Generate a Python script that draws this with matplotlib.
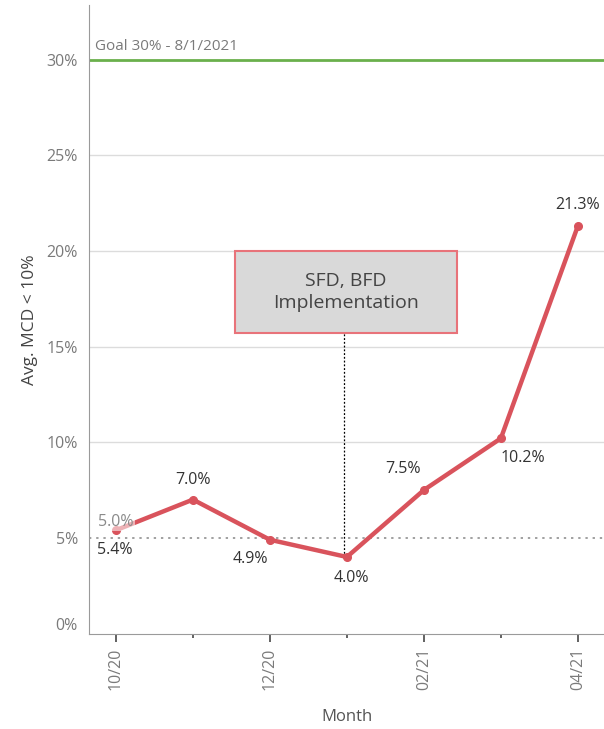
import matplotlib.pyplot as plt
from matplotlib.patches import Rectangle

months = ["10/20", "11/20", "12/20", "01/21", "02/21", "03/21", "04/21"]
avg_mcd = [5.4, 7.0, 4.9, 4.0, 7.5, 10.2, 21.3]
tick_labels = ["10/20", "", "12/20", "", "02/21", "", "04/21"]
goal = 30
baseline = 5.0

# label offsets in points (dx, dy) for each data label
label_offsets = [(-1, -14), (0, 14), (-14, -14), (3, -15), (-15, 15), (16, -14), (0, 15)]

red = "#d9535c"
gray_txt = "#7a7a7a"

plt.rcParams['font.family'] = ['Open Sans', 'DejaVu Sans']

fig = plt.figure(figsize=(6.04, 7.29), dpi=100)
ax = fig.add_axes([0.1474, 0.131, 0.8526, 0.862])

x = list(range(len(months)))
ax.set_xlim(-0.35, len(months) - 1 + 0.34)
ax.set_ylim(0, 32.85)

# grid lines
for g in [10, 15, 20, 25]:
    ax.axhline(g, color="#dcdcdc", lw=1, zorder=0)
ax.axhline(goal, color="#6ab04c", lw=2, zorder=1)
ax.text(0.012, goal + 0.3, "Goal 30% - 8/1/2021", transform=ax.get_yaxis_transform(),
        fontsize=11, color=gray_txt, va="bottom", ha="left")
ax.axhline(baseline, color="#a0a0a0", lw=1.4, ls=(0, (1.2, 2.5)), zorder=1)

# annotation box and leader line
ax.plot([3 - 0.04, 3 - 0.04], [avg_mcd[3], 15.7], color="black", lw=0.9, ls=(0, (1.5, 1.5)), zorder=2)
ax.add_patch(Rectangle((1.55, 15.7), 2.88, 4.3, fc="#d9d9d9", ec="#e8737a", lw=1.5, zorder=3))
ax.text(2.99, 17.85, "SFD, BFD\nImplementation", ha="center", va="center", fontsize=14,
        color="#444444", linespacing=1.25, zorder=4)

ax.plot(x, avg_mcd, color=red, lw=3.2, marker="o", ms=5.5, zorder=4)

for xi, v, (dx, dy) in zip(x, avg_mcd, label_offsets):
    ax.annotate(f"{v:.1f}%", (xi, v), xytext=(dx, dy), textcoords="offset points",
                ha="center", va="center", fontsize=11.5, color="#333333", zorder=5)

# baseline value label sits over the start of the line
ax.annotate(f"{baseline:.1f}%", (0, avg_mcd[0]), xytext=(0, 6), textcoords="offset points",
            ha="center", va="center", fontsize=11.5, color="#8a8a8a", zorder=6,
            bbox=dict(boxstyle="square,pad=0.05", fc="white", ec="none", alpha=0.55))

ax.set_yticks([0, 5, 10, 15, 20, 25, 30])
ax.set_yticklabels([f"{t}%" for t in [0, 5, 10, 15, 20, 25, 30]], color=gray_txt, fontsize=11.5)
ax.tick_params(axis="y", length=0, pad=8)
# keep the bottom label clear of the x axis
ax.get_yticklabels()[0].set_verticalalignment("bottom")
ax.set_xticks(x[::2])
ax.set_xticklabels(tick_labels[::2], rotation=90, color=gray_txt, fontsize=11.5)
ax.set_xticks(x[1::2], minor=True)
ax.tick_params(axis="x", which="major", length=6, width=1.3, color="#555555", pad=4)
ax.tick_params(axis="x", which="minor", length=3, width=1.3, color="#555555")

for s in ["top", "right"]:
    ax.spines[s].set_visible(False)
ax.spines["left"].set_color("#9a9a9a")
ax.spines["bottom"].set_color("#9a9a9a")

ax.set_ylabel("Avg. MCD < 10%", fontsize=12.5, color="#444444", labelpad=6)
ax.set_xlabel("Month", fontsize=12, color="#555555", labelpad=14)

fig.savefig("out.png", dpi=100)
